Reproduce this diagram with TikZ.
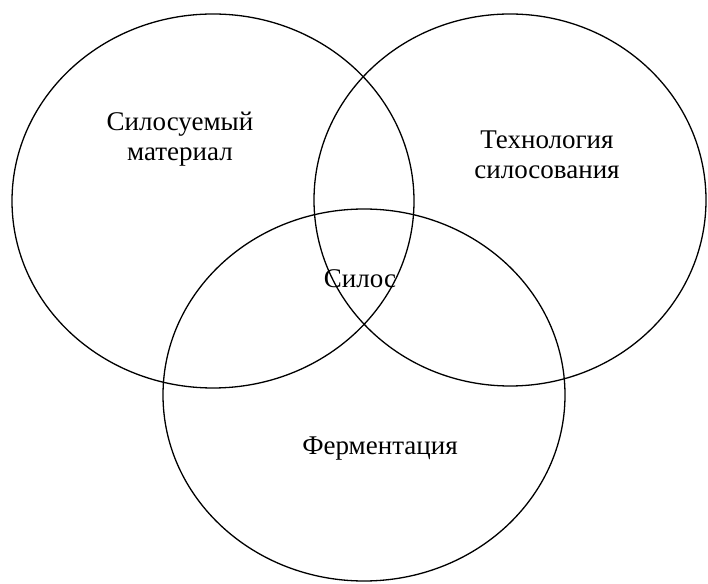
\documentclass[tikz,border=0pt]{standalone}
\usepackage{fontspec}
\setmainfont{Liberation Serif}
\usetikzlibrary{positioning}

\begin{document}
\begin{tikzpicture}[x=1pt, y=1pt, line width=1.3pt,
    txt/.style={align=center, inner sep=0pt, font=\fontsize{27}{30}\selectfont}]
            \useasboundingbox (0,0) rectangle (708,583);

            % Circles
            \draw (213,382) ellipse [x radius=201, y radius=187];
            \draw (510,383) ellipse [x radius=196, y radius=186];
            \draw (364,188) ellipse [x radius=201, y radius=186];

            % Labels
            \node[txt] (material) at (180,444) {Силосуемый\\материал};
            \node[txt] (tech) at (547,428) {Технология\\силосования};
            \node[txt] (silage) at (360,304) {Силос};
            \node[txt] (ferment) at (380,134) {Ферментация};
        \end{tikzpicture}
\end{document}
